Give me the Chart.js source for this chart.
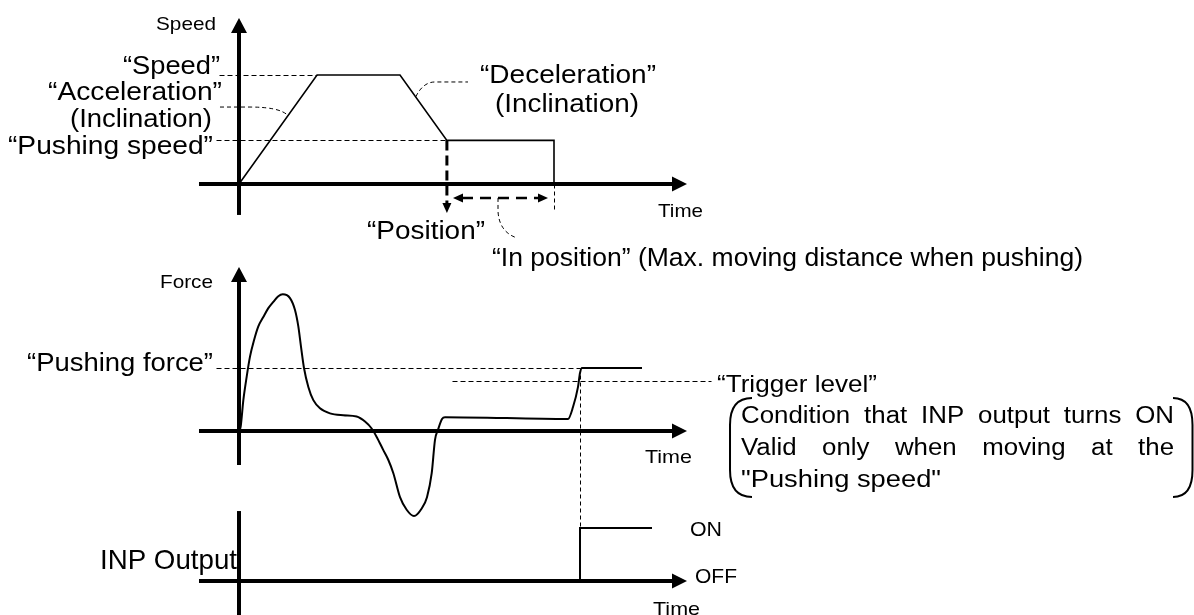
<!DOCTYPE html>
<html>
<head>
<meta charset="utf-8">
<script src="https://cdn.jsdelivr.net/npm/chart.js@4/dist/chart.umd.min.js"></script>
<style>
html,body{margin:0;padding:0;background:#fff;overflow:hidden}
#wrap{width:1194px;height:615px;position:relative}
</style>
</head>
<body>
<div id="wrap"><canvas id="c"></canvas></div>
<script>
// ---------------- DATA ----------------
// Speed panel (time units, speed in % of set speed)
const speedTime  = [0, 22.3, 46, 59.4, 90, 90];
const speedValue = [0, 100, 100, 40, 40, 0];
// Force panel (time units, force in % of pushing force)
const forceTime  = [0, 0.48, 1.24, 2.19, 3.14, 4.29, 5.52, 6.95, 8.38, 9.8, 11.23, 12.5, 14.57, 16, 16.95, 17.71, 18.57, 19.81, 21.24, 23.14, 26, 29.8, 33.6, 36, 37.9, 39.3, 41.2, 42.67, 44.1, 46, 47.9, 50, 52.2, 53.71, 55.06, 56, 56.86, 58, 58.86, 94, 95.43, 96.86, 97.43, 98, 115.14];
const forceValue = [0, 7, 49, 86, 118, 144, 166, 181, 195, 205, 214, 217, 211, 192, 166, 134, 100, 70, 49, 36, 28, 25, 23, 15, 4, -9, -30, -46, -67, -105, -125, -135, -123, -105, -67, -14, 2, 19, 22, 19, 38, 70, 92, 100, 100];
// INP output panel (0 = OFF, 1 = ON)
const inpTime  = [97.43, 97.43, 118];
const inpValue = [0, 1, 1];
// Reference levels
const SPEED_SET = 100;
const PUSH_SPEED = 40;
const PUSH_FORCE = 100;
const TRIGGER_LEVEL = 78;
const POSITION_T = 59.4;
const INPOS_END_T = 90;
const INP_ON_T = 97.43;

// ---------------- LAYOUT ----------------
const W = 1194, H = 615;
const X0 = 239, XK = 3.5;                 // origin pixel and px per time unit
const PANEL = {
  speed: {id: 'ySpeed', base: 184, k: 1.09},
  force: {id: 'yForce', base: 431, k: 0.63},
  inp:   {id: 'yInp',   base: 581, k: 53}
};
const FONT = '"Liberation Sans", Arial, Helvetica, sans-serif';

const axesSpec = [
  {panel: 'speed', vFrom: -28.4, vTo: 152.3, arrow: true},
  {panel: 'force', vFrom: -54,   vTo: 260.3, arrow: true},
  {panel: 'inp',   vFrom: -0.8,  vTo: 1.32,  arrow: false}
];
const AXIS_T_FROM = -11.43, AXIS_T_TO = 128;

const labels = [
  {panel:'speed', t:-6.57,  v:141.3, text:'Speed', size:19, w:60, align:'right'},
  {panel:'speed', t:-5.43,  v:100.5, text:'\u201CSpeed\u201D', size:25, w:97, align:'right'},
  {panel:'speed', t:-4.86,  v:77.1,  text:'\u201CAcceleration\u201D', size:25, w:174, align:'right'},
  {panel:'speed', t:-7.71,  v:52.3,  text:'(Inclination)', size:25, w:142, align:'right'},
  {panel:'speed', t:-7.43,  v:27.5,  text:'\u201CPushing speed\u201D', size:25, w:205, align:'right'},
  {panel:'speed', t:68.86,  v:92.7,  text:'\u201CDeceleration\u201D', size:25, w:176, align:'left'},
  {panel:'speed', t:73.14,  v:66.1,  text:'(Inclination)', size:25, w:144, align:'left'},
  {panel:'speed', t:36.57,  v:-50.5, text:'\u201CPosition\u201D', size:25, w:118, align:'left'},
  {panel:'speed', t:72.29,  v:-75.2, text:'\u201CIn position\u201D (Max. moving distance when pushing)', size:25, w:591, align:'left'},
  {panel:'speed', t:119.71, v:-30.3, text:'Time', size:18.5, w:45, align:'left'},
  {panel:'force', t:-7.43,  v:227,   text:'Force', size:18.5, w:53, align:'right'},
  {panel:'force', t:-7.43,  v:95.2,  text:'\u201CPushing force\u201D', size:25, w:186, align:'right'},
  {panel:'force', t:136.57, v:61.9,  text:'\u201CTrigger level\u201D', size:24, w:160, align:'left'},
  {panel:'force', t:116,    v:-50.8, text:'Time', size:18.5, w:47, align:'left'},
  {panel:'force', t:143.43, v:-88.9, text:'"Pushing speed"', size:23.5, w:200, align:'left'},
  {panel:'inp',   t:128.86, v:0.849, text:'ON', size:19.5, w:32, align:'left'},
  {panel:'inp',   t:130.29, v:-0.038,text:'OFF', size:20.5, w:42, align:'left'},
  {panel:'inp',   t:118.29, v:-0.64, text:'Time', size:18.5, w:47, align:'left'},
  {panel:'inp',   t:-0.57,  v:0.226, text:'INP Output', size:28, w:137, align:'right'}
];
const justified = [
  {panel:'force', t:143.43, v:12.7,  text:'Condition that INP output turns ON', size:23.5, w:433, sx:1.1},
  {panel:'force', t:143.43, v:-38.1, text:'Valid only when moving at the', size:23.5, w:433, sx:1.1}
];
const bracket = {panel:'force', tLeft:140.29, tLeftHook:146.57, tRight:272.43, tRightHook:266.86, vTop:52.4, vBottom:-104.8, r:27};

// ---------------- CHART ----------------
function pt(chart, panel, t, v) {
  return [chart.scales.x.getPixelForValue(t), chart.scales[PANEL[panel].id].getPixelForValue(v)];
}
const crisp = v => Math.round(v - 0.5) + 0.5;
function strokePath(ctx, pts, width, dash) {
  ctx.save();
  ctx.lineWidth = width; ctx.strokeStyle = '#000'; ctx.setLineDash(dash || []);
  ctx.lineCap = 'butt';
  ctx.beginPath();
  pts.forEach((p, i) => {
    let x = p[0], y = p[1];
    if (width <= 1) { x = crisp(x); y = crisp(y); }
    i ? ctx.lineTo(x, y) : ctx.moveTo(x, y);
  });
  ctx.stroke();
  ctx.restore();
}
function arrowHead(ctx, tip, dx, dy, len, half) {
  const bx = tip[0] - dx * len, by = tip[1] - dy * len;
  ctx.save(); ctx.fillStyle = '#000';
  ctx.beginPath();
  ctx.moveTo(tip[0], tip[1]);
  ctx.lineTo(bx - dy * half, by + dx * half);
  ctx.lineTo(bx + dy * half, by - dx * half);
  ctx.closePath(); ctx.fill(); ctx.restore();
}
function drawText(ctx, text, x, y, size, w, align) {
  ctx.save();
  ctx.font = size + 'px ' + FONT;
  ctx.fillStyle = '#000';
  const m = ctx.measureText(text).width;
  const s = w ? w / m : 1;
  ctx.translate(x, y); ctx.scale(s, 1);
  ctx.textAlign = align; ctx.textBaseline = 'alphabetic';
  ctx.fillText(text, 0, 0);
  ctx.restore();
}
function drawJustified(ctx, text, x, y, size, w, sx) {
  ctx.save();
  ctx.font = size + 'px ' + FONT;
  ctx.fillStyle = '#000'; ctx.textBaseline = 'alphabetic'; ctx.textAlign = 'left';
  const words = text.split(' ');
  const ws = words.map(s => ctx.measureText(s).width * sx);
  const total = ws.reduce((a, b) => a + b, 0);
  const gap = (w - total) / (words.length - 1);
  let cx = x;
  words.forEach((wd, i) => {
    ctx.save(); ctx.translate(cx, y); ctx.scale(sx, 1); ctx.fillText(wd, 0, 0); ctx.restore();
    cx += ws[i] + gap;
  });
  ctx.restore();
}

const diagram = {
  id: 'diagram',
  afterDatasetsDraw(chart) {
    const ctx = chart.ctx;
    const P = (panel, t, v) => pt(chart, panel, t, v);
    const AL = 15, AH_V = 8, AH_H = 7.5;

    // axes
    axesSpec.forEach(a => {
      const b = P(a.panel, 0, a.vFrom), tip = P(a.panel, 0, a.vTo);
      strokePath(ctx, [b, a.arrow ? [tip[0], tip[1] + AL] : tip], 4);
      if (a.arrow) arrowHead(ctx, tip, 0, -1, AL, AH_V);
      const l = P(a.panel, AXIS_T_FROM, 0), r = P(a.panel, AXIS_T_TO, 0);
      strokePath(ctx, [l, [r[0] - AL, r[1]]], 4);
      arrowHead(ctx, r, 1, 0, AL, AH_H);
    });

    // guide lines (thin dashed)
    const thin = [5, 3];
    strokePath(ctx, [P('speed', -5.43, SPEED_SET), P('speed', speedTime[1], SPEED_SET)], 1, thin);
    strokePath(ctx, [P('speed', -6.29, PUSH_SPEED), P('speed', speedTime[3], PUSH_SPEED)], 1, thin);
    strokePath(ctx, [P('speed', INPOS_END_T, 0), P('speed', INPOS_END_T, -23.85)], 1, [4, 3]);
    strokePath(ctx, [P('force', -6.29, PUSH_FORCE), P('force', INP_ON_T, PUSH_FORCE)], 1, thin);
    strokePath(ctx, [P('force', 60.86, TRIGGER_LEVEL), P('force', 134.86, TRIGGER_LEVEL)], 1, thin);
    strokePath(ctx, [P('force', INP_ON_T, PUSH_FORCE), P('inp', INP_ON_T, 1)], 1, [4, 3]);

    // leader curves
    const curve = (panel, pts) => {
      ctx.save(); ctx.lineWidth = 1; ctx.setLineDash([4, 3]); ctx.strokeStyle = '#000';
      ctx.beginPath();
      pts.forEach(c => {
        if (c[0] === 'M') { const p = P(panel, c[1], c[2]); ctx.moveTo(p[0], p[1]); }
        else if (c[0] === 'L') { const p = P(panel, c[1], c[2]); ctx.lineTo(p[0], p[1]); }
        else { const q = P(panel, c[1], c[2]), p = P(panel, c[3], c[4]); ctx.quadraticCurveTo(q[0], q[1], p[0], p[1]); }
      });
      ctx.stroke(); ctx.restore();
    };
    curve('speed', [['M', -5.43, 70.6], ['L', 3.14, 70.6], ['Q', 11.71, 70.6, 14, 62.8]]);
    curve('speed', [['M', 50.5, 80], ['Q', 52.6, 93.6, 56, 93.6], ['L', 65.43, 93.6]]);
    curve('speed', [['M', 74, -12.8], ['L', 74, -24.8], ['Q', 74.3, -44, 79.43, -49.5]]);

    // "Position" arrow (thick dashed, down)
    const pTop = P('speed', POSITION_T, PUSH_SPEED), pTip = P('speed', POSITION_T, -26.6);
    strokePath(ctx, [pTop, [pTip[0], pTip[1] - 10]], 3, [10, 5]);
    arrowHead(ctx, pTip, 0, 1, 10, 4.5);

    // "In position" double arrow
    const dl = P('speed', 61.14, -12.8), dr = P('speed', 88.29, -12.8);
    strokePath(ctx, [[dl[0] + 9, dl[1]], [dr[0] - 9, dr[1]]], 2.5, [11, 7]);
    arrowHead(ctx, dl, -1, 0, 10, 4.5);
    arrowHead(ctx, dr, 1, 0, 10, 4.5);

    // bracket around the condition text
    const b = bracket;
    const lt = P(b.panel, b.tLeft, b.vTop), lh = P(b.panel, b.tLeftHook, b.vTop), lb = P(b.panel, b.tLeft, b.vBottom), lhb = P(b.panel, b.tLeftHook, b.vBottom);
    const rt = P(b.panel, b.tRight, b.vTop), rh = P(b.panel, b.tRightHook, b.vTop), rb = P(b.panel, b.tRight, b.vBottom), rhb = P(b.panel, b.tRightHook, b.vBottom);
    ctx.save(); ctx.lineWidth = 2; ctx.strokeStyle = '#000';
    ctx.beginPath();
    ctx.moveTo(lh[0], lh[1]); ctx.quadraticCurveTo(lt[0], lt[1], lt[0], lt[1] + b.r);
    ctx.lineTo(lb[0], lb[1] - b.r); ctx.quadraticCurveTo(lb[0], lb[1], lhb[0], lhb[1]);
    ctx.moveTo(rh[0], rh[1]); ctx.quadraticCurveTo(rt[0], rt[1], rt[0], rt[1] + b.r);
    ctx.lineTo(rb[0], rb[1] - b.r); ctx.quadraticCurveTo(rb[0], rb[1], rhb[0], rhb[1]);
    ctx.stroke(); ctx.restore();

    // texts
    labels.forEach(l => { const p = P(l.panel, l.t, l.v); drawText(ctx, l.text, p[0], p[1], l.size, l.w, l.align); });
    justified.forEach(l => { const p = P(l.panel, l.t, l.v); drawJustified(ctx, l.text, p[0], p[1], l.size, l.w, l.sx); });
  }
};

function yScale(p) {
  return {type: 'linear', display: false, min: (p.base - H) / p.k, max: p.base / p.k};
}
const toXY = (ts, vs) => ts.map((t, i) => ({x: t, y: vs[i]}));

new Chart(document.getElementById('c'), {
  type: 'scatter',
  data: {
    datasets: [
      {label: 'Speed', data: toXY(speedTime, speedValue), yAxisID: 'ySpeed', showLine: true,
       borderColor: '#000', borderWidth: 1.6, pointRadius: 0, tension: 0, borderJoinStyle: 'miter'},
      {label: 'Force', data: toXY(forceTime, forceValue), yAxisID: 'yForce', showLine: true,
       borderColor: '#000', borderWidth: 2, pointRadius: 0, cubicInterpolationMode: 'monotone'},
      {label: 'INP output', data: toXY(inpTime, inpValue), yAxisID: 'yInp', showLine: true,
       borderColor: '#000', borderWidth: 2, pointRadius: 0, tension: 0, borderJoinStyle: 'miter'}
    ]
  },
  options: {
    responsive: true, maintainAspectRatio: false, animation: false, events: [],
    layout: {padding: 0},
    plugins: {legend: {display: false}, tooltip: {enabled: false}},
    scales: {
      x: {type: 'linear', display: false, min: -X0 / XK, max: (W - X0) / XK},
      ySpeed: yScale(PANEL.speed),
      yForce: yScale(PANEL.force),
      yInp: yScale(PANEL.inp)
    }
  },
  plugins: [diagram]
});
</script>
</body>
</html>
